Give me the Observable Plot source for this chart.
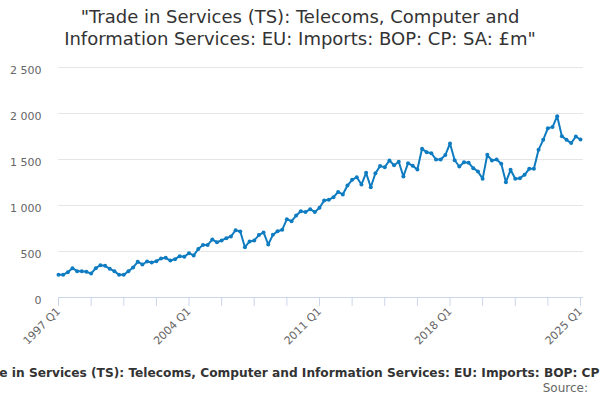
<!DOCTYPE html>
<html>
<head>
<meta charset="utf-8">
<script src="https://cdn.jsdelivr.net/npm/d3@7"></script>
<script src="https://cdn.jsdelivr.net/npm/@observablehq/plot@0.6"></script>
<style>
  html, body { margin: 0; padding: 0; background: #fff; }
  #wrap { width: 600px; height: 400px; overflow: hidden; font-family: "DejaVu Sans", sans-serif; }
  #title { height: 56px; box-sizing: border-box; padding-top: 6px; text-align: center; font-size: 18px; line-height: 22px; color: #333; }
  #chart svg { display: block; }
  #caption { height: 24px; overflow: hidden; white-space: nowrap; font-weight: bold; font-size: 12.2px; line-height: 24px; color: #333; padding-top: 5px; box-sizing: border-box; }
  #caption span { display: inline-block; margin-left: -37px; }
  #source { text-align: right; padding-right: 12px; font-size: 12px; line-height: 16px; color: #666; }
</style>
</head>
<body>
<div id="wrap">
  <div id="title">"Trade in Services (TS): Telecoms, Computer and<br>Information Services: EU: Imports: BOP: CP: SA: £m"</div>
  <div id="chart"></div>
  <div id="caption"><span>"Trade in Services (TS): Telecoms, Computer and Information Services: EU: Imports: BOP: CP: SA: £m"</span></div>
  <div id="source">Source:</div>
</div>
<script>
const startYear = 1997;
const values = [
  246, 246, 275, 319, 286, 286, 279, 261, 319, 351, 344, 312, 286, 246, 246, 286, 326, 388, 359, 391, 380, 395, 424, 431, 402, 417, 449, 442,
  482, 457, 527, 572, 572, 630, 601, 620, 645, 663, 732, 717, 547, 609, 620, 678, 707, 576, 681, 721, 736, 851, 830, 891, 938, 928, 960, 928,
  975, 1054, 1062, 1091, 1147, 1120, 1217, 1279, 1308, 1228, 1355, 1199, 1351, 1428, 1417, 1489, 1438, 1475, 1315, 1460, 1431, 1391, 1616, 1580,
  1569, 1500, 1500, 1548, 1674, 1492, 1424, 1471, 1464, 1406, 1370, 1290, 1551, 1489, 1500, 1453, 1254, 1388, 1290, 1297, 1333, 1399, 1399, 1605,
  1714, 1841, 1852, 1971, 1754, 1714, 1678, 1750, 1717
];
const quarters = values.map((_, i) => `${startYear + Math.floor(i / 4)} Q${(i % 4) + 1}`);
const labelQuarters = ["1997 Q1", "2004 Q1", "2011 Q1", "2018 Q1", "2025 Q1"];
const tickQuarters = quarters.filter((_, i) => i % 7 === 0);
const yTicks = [0, 500, 1000, 1500, 2000, 2500];

const data = quarters.map((q, i) => ({q, v: values[i]}));
const lineColor = "#0f7cc1";
const fmt = v => d3.format(",")(v).replace(/,/g, " ");

const chart = Plot.plot({
  width: 600,
  height: 300,
  marginLeft: 58,
  marginRight: 17,
  marginTop: 11,
  marginBottom: 59,
  style: {fontFamily: "DejaVu Sans", fontSize: "11px", color: "#666", background: "#fff"},
  x: {type: "point", domain: quarters, range: [58, 580], padding: 0, axis: null, label: null},
  y: {domain: [0, 2500], axis: null, label: null},
  marks: [
    Plot.ruleY(yTicks.filter(d => d > 0), {stroke: "#e6e6e6", strokeWidth: 1}),
    Plot.axisY({ticks: yTicks, tickSize: 0, tickPadding: 17, tickFormat: fmt, dy: 3, fill: "#666", fontSize: 11, label: null}),
    Plot.ruleY([0], {stroke: "#ccd6eb", strokeWidth: 1}),
    Plot.axisX({ticks: tickQuarters, tickSize: 9, tickFormat: () => "", stroke: "#ccd6eb", strokeOpacity: 1, label: null}),
    Plot.axisX({ticks: labelQuarters, tickSize: 0, tickRotate: -45, tickPadding: 12, fill: "#666", fontSize: 11, label: null}),
    Plot.line(data, {x: "q", y: "v", stroke: lineColor, strokeWidth: 2}),
    Plot.dot(data, {x: "q", y: "v", r: 2, fill: lineColor, stroke: "none"})
  ]
});
document.getElementById("chart").appendChild(chart);
</script>
</body>
</html>
